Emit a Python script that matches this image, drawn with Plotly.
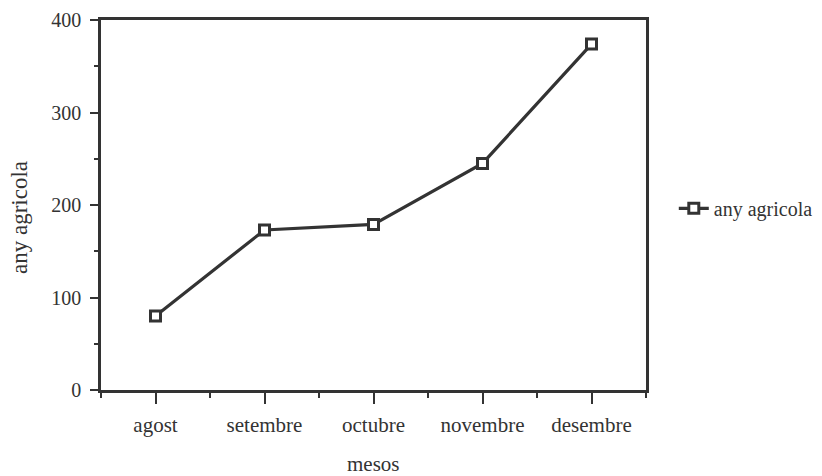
import plotly.graph_objects as go
import numpy as np

months = ["agost", "setembre", "octubre", "novembre", "desembre"]
values = [80, 173, 179, 245, 374]
series_name = "any agricola"
x_title = "mesos"
y_ticks = [0, 100, 200, 300, 400]

x_idx = np.arange(len(months))
ink = "#333333"
fam = "Liberation Serif, Times New Roman, serif"
xtick_font = dict(family=fam, size=21, color=ink)
ytick_font = dict(family=fam, size=20, color=ink)

fig = go.Figure()
fig.add_trace(go.Scatter(
    x=x_idx, y=values, name=series_name, mode="lines+markers",
    line=dict(color=ink, width=3.2),
    marker=dict(symbol="square", size=10, color="white", line=dict(color=ink, width=3)),
))

fig.update_layout(
    width=822, height=476,
    margin=dict(l=93, r=184, t=11.5, b=94, autoexpand=False),
    paper_bgcolor="white", plot_bgcolor="white",
    font=ytick_font,
    showlegend=True,
    legend=dict(x=1.051, y=0.491, yanchor="middle", xanchor="left",
                font=dict(family=fam, size=20, color=ink),
                itemwidth=30, bgcolor="rgba(0,0,0,0)"),
    xaxis=dict(
        range=[-0.5, len(months) - 0.5], automargin=False,
        tickmode="array", tickvals=x_idx, ticktext=months,
        ticks="outside", ticklen=11, tickwidth=2, tickcolor=ink,
        ticklabelstandoff=3,
        minor=dict(tick0=0.5, dtick=1, ticks="outside", ticklen=5, tickwidth=2, tickcolor=ink),
        showline=True, linewidth=2.5, linecolor=ink, mirror=True,
        showgrid=False, zeroline=False,
        tickfont=xtick_font,
    ),
    yaxis=dict(
        range=[0, 400], automargin=False,
        tickmode="array", tickvals=y_ticks,
        ticks="outside", ticklen=8, tickwidth=2, tickcolor=ink,
        ticklabelstandoff=5,
        minor=dict(tick0=50, dtick=100, ticks="outside", ticklen=4, tickwidth=2, tickcolor=ink),
        showline=True, linewidth=2.5, linecolor=ink, mirror=True,
        showgrid=False, zeroline=False,
        tickfont=ytick_font,
    ),
    annotations=[
        dict(text=x_title, xref="paper", yref="paper", x=0.5, y=0,
             xanchor="center", yanchor="middle", yshift=-74, showarrow=False,
             font=dict(family=fam, size=21, color=ink)),
        dict(text=series_name, xref="paper", yref="paper", x=0, y=0.5,
             xanchor="center", yanchor="middle", xshift=-82, yshift=-13,
             textangle=-90, showarrow=False, font=dict(family=fam, size=23, color=ink)),
    ],
)

fig.write_html("out.html")
